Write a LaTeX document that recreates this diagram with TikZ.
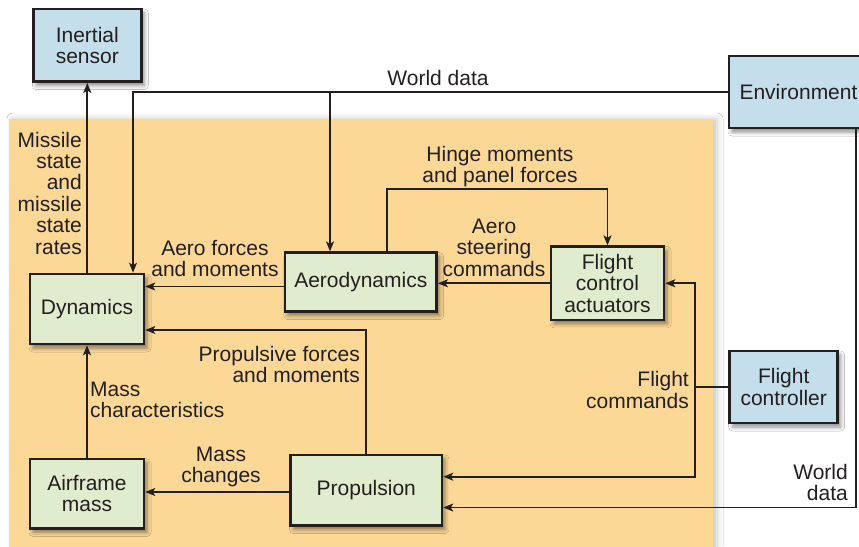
\documentclass[tikz,border=0pt]{standalone}
\usepackage{fontspec}
\setmainfont{Liberation Sans}
\usetikzlibrary{arrows.meta,shadows.blur}
\definecolor{boxgreen}{HTML}{E0ECCE}
\definecolor{boxblue}{HTML}{C4DFEB}
\definecolor{zoneorange}{HTML}{FCD897}
\definecolor{ink}{HTML}{231F20}

\begin{document}
\begin{tikzpicture}[x=1pt,y=-1pt,
  font=\fontsize{21}{21.4}\selectfont,
  blk/.style={draw=ink, line width=2.6pt, inner sep=0pt, align=center, text=ink,
    blur shadow={shadow xshift=3pt, shadow yshift=-4pt, shadow blur radius=4pt, shadow opacity=45}},
  sim/.style={blk, fill=boxgreen},
  ext/.style={blk, fill=boxblue},
  flow/.style={draw=ink, line width=1.7pt, -{Stealth[length=10pt,width=8pt,inset=2.5pt]}},
  wire/.style={draw=ink, line width=1.7pt},
  lbl/.style={text=ink, inner sep=0pt}
]
\useasboundingbox (0,0) rectangle (859,546);
\clip (0,0) rectangle (859,546);
\fill[white] (0,0) rectangle (859,546);

% missile simulation zone
\fill[zoneorange, blur shadow={shadow xshift=4pt, shadow yshift=0pt, shadow blur radius=6pt, shadow opacity=22}]
  (9,119) rectangle (713,580);

% blocks
\node[ext, minimum width=108pt, minimum height=72.7pt] (ins) at (87.3,45.3) {Inertial\\sensor};
\node[ext, minimum width=139pt, minimum height=72pt] (env) at (798.5,92) {Environment};
\node[ext, minimum width=108pt, minimum height=72pt] (fc) at (783.7,387) {Flight\\controller};
\node[sim, minimum width=114pt, minimum height=70pt] (dyn) at (87,309) {Dynamics};
\node[sim, minimum width=114pt, minimum height=69.5pt] (air) at (87,493.7) {Airframe\\mass};
\node[sim, minimum width=151.3pt, minimum height=70.7pt] (prop) at (366.3,490.3) {Propulsion};
\node[sim, minimum width=151.7pt, minimum height=59pt] (aero) at (360.8,282.2) {Aerodynamics};
\node[sim, minimum width=113pt, minimum height=73.3pt] (fca) at (607.5,283.3) {Flight\\control\\actuators};

% connectors
\coordinate (wd) at (330,92);
\coordinate (fcj) at (695,387);
\draw[flow] (dyn.north -| ins.south) -- (ins.south);
\draw[flow] (env.west) -| ([xshift=46pt]dyn.north);
\draw[flow] (wd) -- (wd |- aero.north);
\draw[flow] (aero.west |- 0,286.5) -- (dyn.east |- 0,286.5);
\draw[flow] (fca.west) -- (fca.west -| aero.east);
\draw[flow] (aero.north -| 386.7,0) -- (386.7,189) -| (fca.north);
\draw[wire] (fc.west) -- (fcj);
\draw[flow] (fcj) |- (fca.east);
\draw[flow] (fcj) |- (prop.east |- 0,476.7);
\draw[flow] (env.south -| 856,0) |- (prop.east |- 0,507.5);
\draw[flow] (prop.north) |- (dyn.east |- 0,330);
\draw[flow] (air.north) -- (dyn.south);
\draw[flow] (prop.west |- 0,492) -- (air.east |- 0,492);

% labels
\node[lbl] (lwd) at (438,78) {World data};
\node[lbl, align=right, anchor=east] (lms) at (82,193) {Missile\\state\\and\\missile\\state\\rates};
\node[lbl, align=center] (laf) at (215,258.5) {Aero forces\\and moments};
\node[lbl, align=center] (lhm) at (500,166.5) {Hinge moments\\and panel forces};
\node[lbl, align=center] (las) at (494,247.5) {Aero\\steering\\commands};
\node[lbl, align=right, anchor=east] (lpf) at (360,364.5) {Propulsive forces\\and moments};
\node[lbl, align=left, anchor=west] (lmc) at (90,400) {Mass\\characteristics};
\node[lbl, align=center] (lmch) at (221,467) {Mass\\changes};
\node[lbl, align=right, anchor=east] (lfcm) at (689,390) {Flight\\commands};
\node[lbl, align=right, anchor=east] (lwd2) at (848,482.5) {World\\data};
\end{tikzpicture}
\end{document}
